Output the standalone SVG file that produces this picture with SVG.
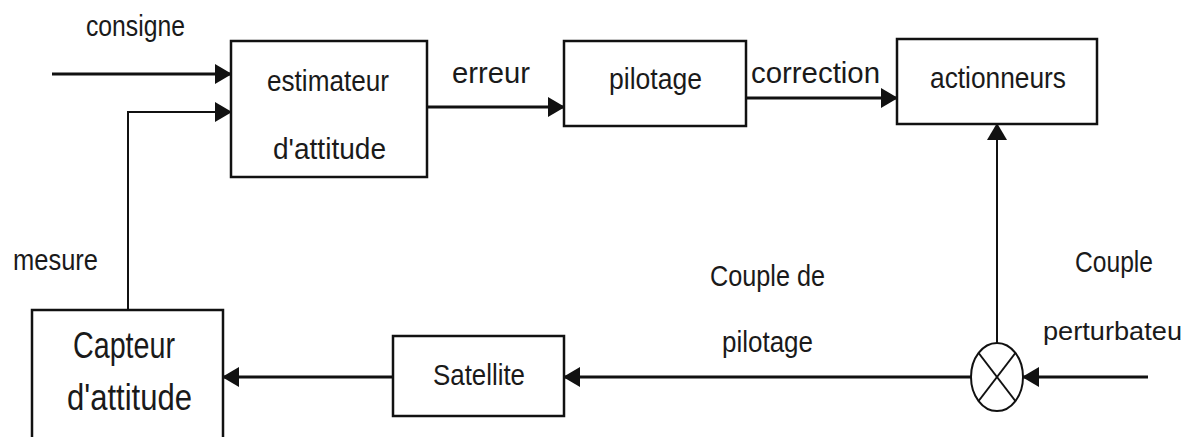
<svg xmlns="http://www.w3.org/2000/svg" width="1185" height="437" viewBox="0 0 1185 437">
  <style>
    .box { fill: #ffffff; stroke: #111111; stroke-width: 2.5; }
    .wire { fill: none; stroke: #111111; stroke-width: 3; }
    .thin { fill: none; stroke: #111111; stroke-width: 2; }
    .lbl { font-family: "Liberation Sans Narrow", "Liberation Sans", Arial, sans-serif; font-size: 30px; fill: #1a1a1a; }
    .big { font-size: 36px; }
    .edge { font-size: 26px; }
  </style>
  <defs>
    <marker id="head" markerUnits="userSpaceOnUse" markerWidth="17" markerHeight="20" refX="16" refY="10" orient="auto">
      <path d="M0,0 L17,10 L0,20 Z" fill="#111111"/>
    </marker>
  </defs>

  <!-- connectors -->
  <g id="connectors">
    <line class="wire" x1="52" y1="74" x2="231" y2="74" marker-end="url(#head)"/>
    <polyline class="thin" points="128,309 128,112 231,112" marker-end="url(#head)"/>
    <line class="wire" x1="427" y1="107" x2="564" y2="107" marker-end="url(#head)"/>
    <line class="wire" x1="746" y1="98" x2="897" y2="98" marker-end="url(#head)"/>
    <line class="thin" x1="997" y1="343" x2="997" y2="124" marker-end="url(#head)"/>
    <line class="wire" x1="1148" y1="377" x2="1023" y2="377" marker-end="url(#head)"/>
    <line class="wire" x1="971" y1="377" x2="564" y2="377" marker-end="url(#head)"/>
    <line class="wire" x1="393" y1="377" x2="223" y2="377" marker-end="url(#head)"/>
  </g>

  <!-- connector labels -->
  <g id="labels">
    <text class="lbl" x="86" y="36" textLength="99" lengthAdjust="spacingAndGlyphs">consigne</text>
    <text class="lbl" x="452" y="83" textLength="78" lengthAdjust="spacingAndGlyphs">erreur</text>
    <text class="lbl" x="751" y="83" textLength="129" lengthAdjust="spacingAndGlyphs">correction</text>
    <text class="lbl" x="13" y="270" textLength="85" lengthAdjust="spacingAndGlyphs">mesure</text>
    <text class="lbl" x="710" y="286" textLength="115" lengthAdjust="spacingAndGlyphs">Couple de</text>
    <text class="lbl" x="722" y="352" textLength="91" lengthAdjust="spacingAndGlyphs">pilotage</text>
    <text class="lbl" x="1075" y="272" textLength="78" lengthAdjust="spacingAndGlyphs">Couple</text>
    <text class="lbl edge" x="1043" y="340" textLength="139" lengthAdjust="spacingAndGlyphs">perturbateu</text>
  </g>

  <g id="estimateur">
    <rect class="box" x="231" y="41" width="196" height="136"/>
    <text class="lbl" x="267" y="91" textLength="122" lengthAdjust="spacingAndGlyphs">estimateur</text>
    <text class="lbl" x="273" y="159" textLength="113" lengthAdjust="spacingAndGlyphs">d'attitude</text>
  </g>

  <g id="pilotage">
    <rect class="box" x="564" y="41" width="182" height="85"/>
    <text class="lbl" x="609" y="89" textLength="93" lengthAdjust="spacingAndGlyphs">pilotage</text>
  </g>

  <g id="actionneurs">
    <rect class="box" x="897" y="39" width="200" height="85"/>
    <text class="lbl" x="930" y="88" textLength="136" lengthAdjust="spacingAndGlyphs">actionneurs</text>
  </g>

  <g id="sommateur">
    <ellipse class="thin" cx="997" cy="377" rx="26" ry="34"/>
    <line class="thin" x1="978.6" y1="353" x2="1015.4" y2="401"/>
    <line class="thin" x1="1015.4" y1="353" x2="978.6" y2="401"/>
  </g>

  <g id="satellite">
    <rect class="box" x="393" y="336" width="171" height="80"/>
    <text class="lbl" x="433" y="385" textLength="92" lengthAdjust="spacingAndGlyphs">Satellite</text>
  </g>

  <g id="capteur">
    <rect class="box" x="32" y="310" width="191" height="140"/>
    <text class="lbl big" x="73" y="358" textLength="102" lengthAdjust="spacingAndGlyphs">Capteur</text>
    <text class="lbl big" x="67" y="410" textLength="125" lengthAdjust="spacingAndGlyphs">d'attitude</text>
  </g>
</svg>
